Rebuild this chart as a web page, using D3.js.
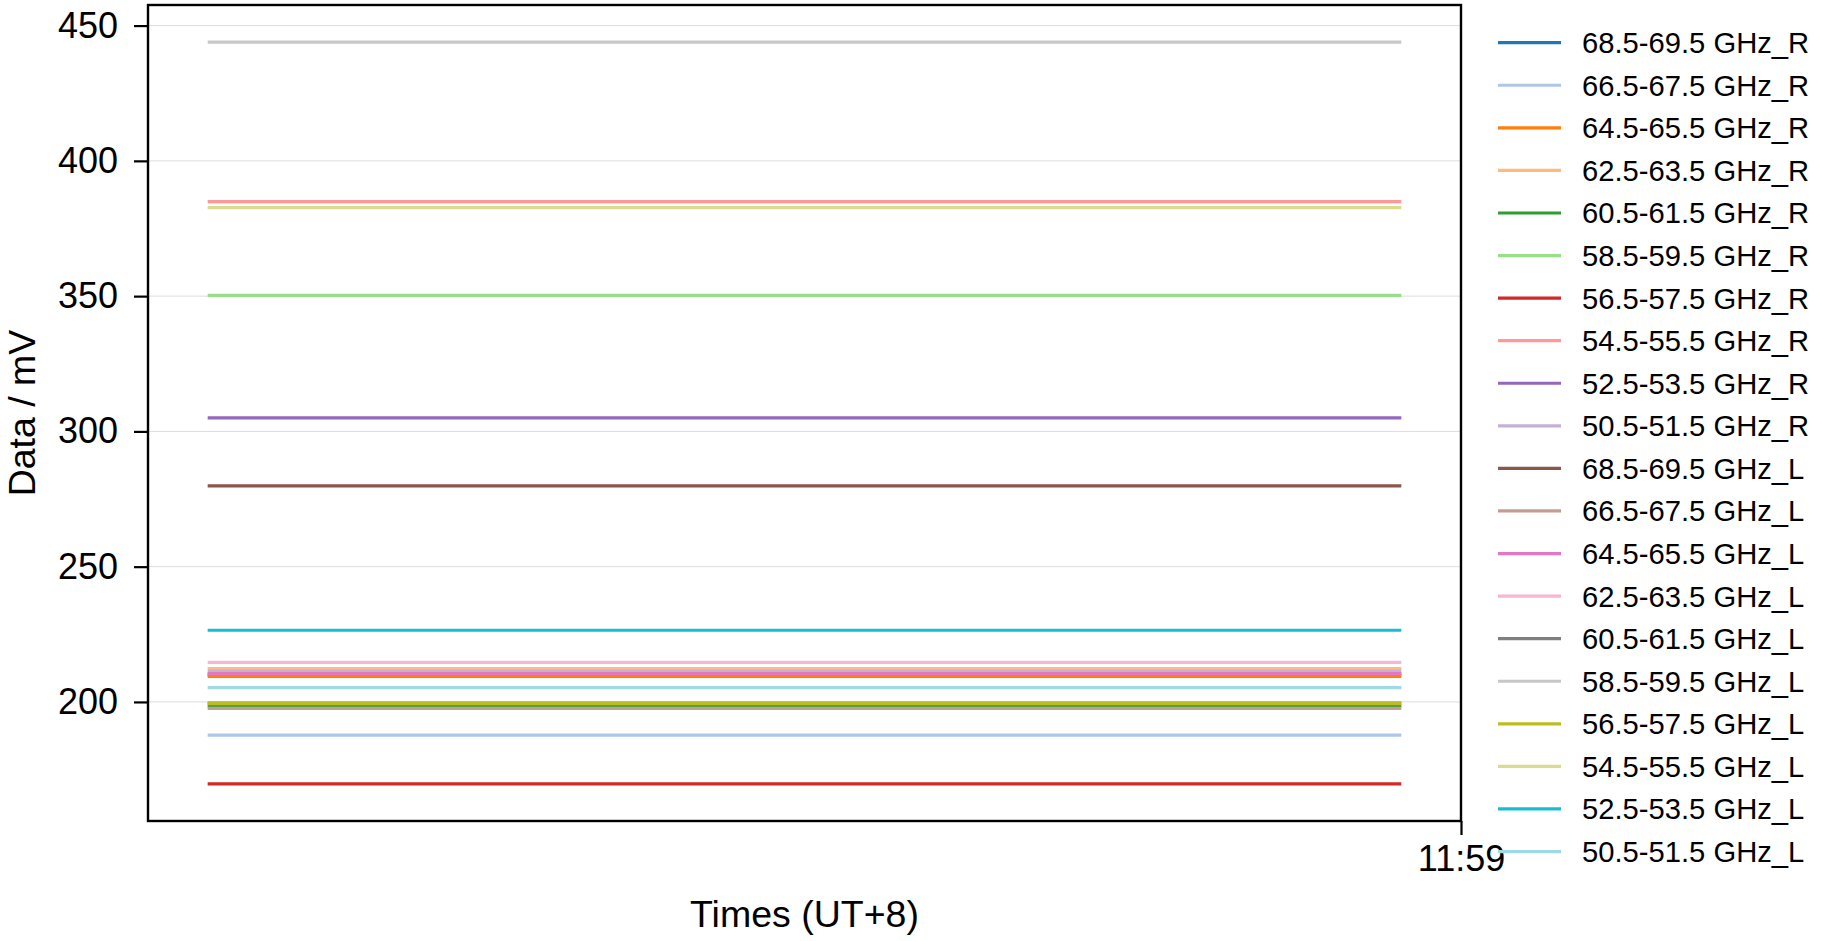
<!DOCTYPE html>
<html>
<head>
<meta charset="utf-8">
<script src="https://cdn.jsdelivr.net/npm/d3@7"></script>
<style>
  html, body { margin: 0; padding: 0; background: #fff; }
  svg { display: block; font-family: "Liberation Sans", Arial, sans-serif; }
</style>
</head>
<body>
<svg id="chart" width="1826" height="941"></svg>
<script>
// ---- data ----
const seriesNames = [
  "68.5-69.5 GHz_R", "66.5-67.5 GHz_R", "64.5-65.5 GHz_R", "62.5-63.5 GHz_R",
  "60.5-61.5 GHz_R", "58.5-59.5 GHz_R", "56.5-57.5 GHz_R", "54.5-55.5 GHz_R",
  "52.5-53.5 GHz_R", "50.5-51.5 GHz_R", "68.5-69.5 GHz_L", "66.5-67.5 GHz_L",
  "64.5-65.5 GHz_L", "62.5-63.5 GHz_L", "60.5-61.5 GHz_L", "58.5-59.5 GHz_L",
  "56.5-57.5 GHz_L", "54.5-55.5 GHz_L", "52.5-53.5 GHz_L", "50.5-51.5 GHz_L"
];
const seriesLevels = [
  210.0, 187.7, 209.4, 212.3, 198.5, 350.3, 169.7, 384.9, 305.0, 211.3,
  279.9, 197.6, 210.5, 214.6, 199.6, 443.9, 199.4, 382.7, 226.5, 205.3
];
const sampleTimes = ["11:57:57", "11:58:12", "11:58:27", "11:58:42", "11:58:57"];
const yTickValues = [200, 250, 300, 350, 400, 450];
const xTickLabels = ["11:59"];
const seriesColors = [
  "#1f77b4", "#aec7e8", "#ff7f0e", "#ffbb78", "#2ca02c", "#98df8a", "#d62728", "#ff9896",
  "#9467bd", "#c5b0d5", "#8c564b", "#c49c94", "#e377c2", "#f7b6d2", "#7f7f7f", "#c7c7c7",
  "#bcbd22", "#dbdb8d", "#17becf", "#9edae5"
];

(function () {
  // ---- layout ----
  const pLeft = 148, pRight = 1461, pTop = 5, pBottom = 821;
  const svg = d3.select("#chart");
  const parse = d3.timeParse("%H:%M:%S");
  const times = sampleTimes.map(parse);

  const tMin = d3.min(times), tMax = d3.max(times);
  const span = tMax - tMin;
  const x = d3.scaleTime()
    .domain([new Date(+tMin - 0.05 * span), new Date(+tMax + 0.05 * span)])
    .range([pLeft, pRight]);

  const vMin = d3.min(seriesLevels), vMax = d3.max(seriesLevels);
  const vPad = (vMax - vMin) * 0.05;
  const y = d3.scaleLinear().domain([vMin - vPad, vMax + vPad]).range([pBottom, pTop]);

  // gridlines
  svg.append("g").selectAll("line").data(yTickValues).join("line")
    .attr("x1", pLeft).attr("x2", pRight)
    .attr("y1", d => y(d)).attr("y2", d => y(d))
    .attr("stroke", "#dddddd").attr("stroke-width", 1);

  // series
  const series = seriesNames.map((name, i) => ({
    name, color: seriesColors[i],
    points: times.map(t => ({ t, v: seriesLevels[i] }))
  }));
  const line = d3.line().x(d => x(d.t)).y(d => y(d.v));
  svg.append("g").selectAll("path").data(series).join("path")
    .attr("d", d => line(d.points))
    .attr("fill", "none")
    .attr("stroke", d => d.color)
    .attr("stroke-width", 3.2);

  // axes
  const yAxis = d3.axisLeft(y).tickValues(yTickValues).tickSize(14).tickPadding(16);
  const gy = svg.append("g").attr("transform", `translate(${pLeft},0)`).call(yAxis);
  gy.select(".domain").remove();
  gy.selectAll(".tick line").attr("stroke", "#000").attr("stroke-width", 2.2);
  gy.selectAll(".tick text").attr("font-size", 36).attr("fill", "#000")
    .attr("font-family", "Liberation Sans, Arial, sans-serif");

  const xTickDates = xTickLabels.map(d3.timeParse("%H:%M"));
  const xAxis = d3.axisBottom(x).tickValues(xTickDates).tickFormat(d3.timeFormat("%H:%M"))
    .tickSize(14).tickPadding(10);
  const gx = svg.append("g").attr("transform", `translate(0,${pBottom})`).call(xAxis);
  gx.select(".domain").remove();
  gx.selectAll(".tick line").attr("stroke", "#000").attr("stroke-width", 2.2);
  gx.selectAll(".tick text").attr("font-size", 36).attr("fill", "#000")
    .attr("font-family", "Liberation Sans, Arial, sans-serif");

  // frame
  svg.append("rect")
    .attr("x", pLeft).attr("y", pTop)
    .attr("width", pRight - pLeft).attr("height", pBottom - pTop)
    .attr("fill", "none").attr("stroke", "#000").attr("stroke-width", 2.4);

  // axis labels
  svg.append("text")
    .attr("x", (pLeft + pRight) / 2).attr("y", 927)
    .attr("text-anchor", "middle").attr("font-size", 37.5).attr("fill", "#000")
    .text("Times (UT+8)");
  svg.append("text")
    .attr("transform", `translate(35,${(pTop + pBottom) / 2}) rotate(-90)`)
    .attr("text-anchor", "middle").attr("font-size", 37.5).attr("fill", "#000")
    .text("Data / mV");

  // legend
  const legend = svg.append("g");
  const rowY = i => 42.7 + i * 42.57;
  legend.selectAll("line").data(series).join("line")
    .attr("x1", 1498).attr("x2", 1561)
    .attr("y1", (d, i) => rowY(i)).attr("y2", (d, i) => rowY(i))
    .attr("stroke", d => d.color).attr("stroke-width", 3.2);
  legend.selectAll("text").data(series).join("text")
    .attr("x", 1582).attr("y", (d, i) => rowY(i) + 10.5)
    .attr("font-size", 29.2).attr("fill", "#000")
    .text(d => d.name);
})();
</script>
</body>
</html>
